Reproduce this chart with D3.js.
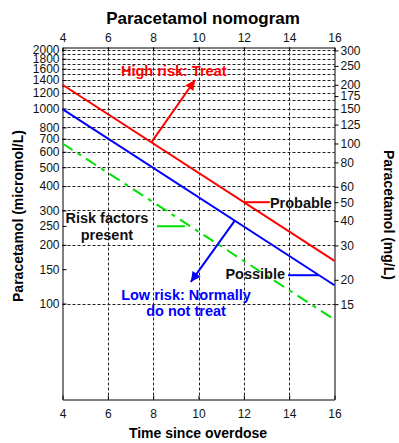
<!DOCTYPE html>
<html>
<head>
<meta charset="utf-8">
<script src="https://cdn.jsdelivr.net/npm/d3@7/dist/d3.min.js"></script>
<style>
  html, body { margin: 0; padding: 0; background: #fff; }
  svg { display: block; }
  text { font-family: "Liberation Sans", Arial, sans-serif; }
</style>
</head>
<body>
<svg id="chart" width="399" height="443"></svg>
<script>
// ---------- data ----------
const hours = [4, 16];                         // time since overdose (h)
const probableMgL = [200, 25];                 // treatment line "Probable" (mg/L)
const possibleMgL = [150, 18.75];              // "Possible" line (mg/L)
const riskFactorsMgL = [100, 12.5];            // "Risk factors present" line (mg/L)
const MGL_TO_UMOL = 6.616;                     // mg/L -> micromol/L
const timeTicks = [4, 6, 8, 10, 12, 14, 16];
const timeGrid = [6, 8, 10, 12, 14];
const leftTicks = [100, 150, 200, 250, 300, 400, 500, 600, 700, 800, 1000, 1200, 1400, 1600, 1800, 2000];
const rightTicks = [15, 20, 30, 40, 50, 60, 80, 100, 125, 150, 175, 200, 250, 300];
const gridLevels = [100, 200, 300, 400, 500, 600, 700, 800, 900, 1000, 1100, 1200, 1300, 1400, 1500, 1600, 1700, 1800, 1900, 2000];
const yDomainUmol = [32.2, 2055];

// annotation anchors, in data units (hours, micromol/L)
const highRiskArrow = [7.92, 9.85, 1400];      // from hour on probable line -> tip (hour, umol)
const lowRiskArrow = [11.6, 9.66, 129];        // from hour on possible line -> tip (hour, umol)

// ---------- layout ----------
const svg = d3.select("#chart");
const L = 62.5, R = 334.5, T = 47.5, B = 399.5;

const x = d3.scaleLinear().domain([4, 16]).range([L, R]);
const y = d3.scaleLog().domain(yDomainUmol).range([B, T]);
const yR = d3.scaleLog().domain(yDomainUmol.map(v => v / MGL_TO_UMOL)).range([B, T]);

const umol = arr => arr.map(v => v * MGL_TO_UMOL);
// value on a line (log-linear between the two ends) at hour h
function lineAt(vals, h) {
  const f = (h - hours[0]) / (hours[1] - hours[0]);
  return Math.exp(Math.log(vals[0]) + f * (Math.log(vals[1]) - Math.log(vals[0])));
}
function hourAt(vals, v) {
  const f = (Math.log(v) - Math.log(vals[0])) / (Math.log(vals[1]) - Math.log(vals[0]));
  return hours[0] + f * (hours[1] - hours[0]);
}

// ---------- grid ----------
const grid = svg.append("g").attr("stroke", "#222").attr("stroke-width", 1).attr("stroke-dasharray", "3,2");
grid.selectAll("line.h").data(gridLevels).join("line")
  .attr("x1", L).attr("x2", R)
  .attr("y1", d => Math.round(y(d)) + 0.5).attr("y2", d => Math.round(y(d)) + 0.5);
grid.selectAll("line.v").data(timeGrid).join("line")
  .attr("y1", T).attr("y2", B)
  .attr("x1", d => Math.round(x(d)) + 0.5).attr("x2", d => Math.round(x(d)) + 0.5);

// ---------- axes ----------
function styleAxis(g) {
  g.attr("font-family", "Liberation Sans, Arial, sans-serif").attr("font-size", 12);
  g.selectAll("path.domain").attr("stroke", "#000");
  g.selectAll(".tick line").attr("stroke", "#000");
  g.selectAll(".tick text").attr("fill", "#111");
}
svg.append("g").attr("transform", `translate(0,${T})`)
  .call(d3.axisTop(x).tickValues(timeTicks).tickSizeInner(-4).tickSizeOuter(0).tickPadding(6).tickFormat(d3.format("d")))
  .call(styleAxis);
svg.append("g").attr("transform", `translate(0,${B})`)
  .call(d3.axisBottom(x).tickValues(timeTicks).tickSizeInner(-4).tickSizeOuter(0).tickPadding(10).tickFormat(d3.format("d")))
  .call(styleAxis);
svg.append("g").attr("transform", `translate(${L},0)`)
  .call(d3.axisLeft(y).tickValues(leftTicks).tickSizeInner(-4).tickSizeOuter(0).tickPadding(3).tickFormat(d3.format("d")))
  .call(styleAxis);
svg.append("g").attr("transform", `translate(${R},0)`)
  .call(d3.axisRight(yR).tickValues(rightTicks).tickSizeInner(4).tickSizeOuter(0).tickPadding(2).tickFormat(d3.format("d")))
  .call(styleAxis);

// ---------- lines ----------
const lineGen = d3.line().x(d => x(d[0])).y(d => y(d[1]));
const series = [
  { vals: umol(probableMgL), color: "#ff0000", dash: null },
  { vals: umol(possibleMgL), color: "#0000ff", dash: null },
  { vals: umol(riskFactorsMgL), color: "#00e000", dash: "12,6,4,6" }
];
series.forEach(s => {
  svg.append("path")
    .attr("d", lineGen(hours.map((h, i) => [h, s.vals[i]])))
    .attr("fill", "none").attr("stroke", s.color).attr("stroke-width", 2)
    .attr("stroke-dasharray", s.dash);
});

// ---------- arrows ----------
const defs = svg.append("defs");
function marker(id, color) {
  defs.append("marker").attr("id", id).attr("viewBox", "0 0 10 10")
    .attr("refX", 10).attr("refY", 5).attr("markerUnits", "userSpaceOnUse")
    .attr("markerWidth", 12).attr("markerHeight", 10).attr("orient", "auto")
    .append("path").attr("d", "M0,0 L10,5 L0,10 Z").attr("fill", color);
}
marker("arrRed", "#ff0000");
marker("arrBlue", "#0000ff");

const pVals = umol(probableMgL), bVals = umol(possibleMgL), gVals = umol(riskFactorsMgL);
svg.append("line")
  .attr("x1", x(highRiskArrow[0])).attr("y1", y(lineAt(pVals, highRiskArrow[0])))
  .attr("x2", x(highRiskArrow[1])).attr("y2", y(highRiskArrow[2]))
  .attr("stroke", "#ff0000").attr("stroke-width", 2).attr("marker-end", "url(#arrRed)");
svg.append("line")
  .attr("x1", x(lowRiskArrow[0])).attr("y1", y(lineAt(bVals, lowRiskArrow[0])))
  .attr("x2", x(lowRiskArrow[1])).attr("y2", y(lowRiskArrow[2]))
  .attr("stroke", "#0000ff").attr("stroke-width", 2).attr("marker-end", "url(#arrBlue)");

// connectors
const probLevel = 50 * MGL_TO_UMOL;
svg.append("line")
  .attr("x1", x(hourAt(pVals, probLevel))).attr("x2", x(13.15))
  .attr("y1", y(probLevel)).attr("y2", y(probLevel))
  .attr("stroke", "#ff0000").attr("stroke-width", 2);
const possLevel = 139.7;
svg.append("line")
  .attr("x1", x(13.95)).attr("x2", x(hourAt(bVals, possLevel)))
  .attr("y1", y(possLevel)).attr("y2", y(possLevel))
  .attr("stroke", "#0000ff").attr("stroke-width", 2);
const riskLevel = 249;
svg.append("line")
  .attr("x1", x(8.17)).attr("x2", x(9.4))
  .attr("y1", y(riskLevel)).attr("y2", y(riskLevel))
  .attr("stroke", "#00e000").attr("stroke-width", 2);

// ---------- annotation text ----------
function label(txt, hx, v, color, anchor) {
  svg.append("text").attr("x", x(hx)).attr("y", y(v))
    .attr("fill", color).attr("font-weight", "bold").attr("font-size", 14.5)
    .attr("text-anchor", anchor).text(txt);
}
label("High risk: Treat", 6.58, 1464, "#ff0000", "start");
label("Probable", 13.15, 308, "#111", "start");
label("Possible", 13.82, 133.2, "#111", "end");
label("Risk factors", 5.96, 258, "#111", "middle");
label("present", 5.96, 212.9, "#111", "middle");
label("Low risk: Normally", 9.45, 104, "#0000ff", "middle");
label("do not treat", 9.45, 86, "#0000ff", "middle");

// ---------- titles ----------
svg.append("text").attr("x", 203).attr("y", 24).attr("text-anchor", "middle")
  .attr("font-weight", "bold").attr("font-size", 17).attr("fill", "#000").text("Paracetamol nomogram");
svg.append("text").attr("x", 198).attr("y", 438).attr("text-anchor", "middle")
  .attr("font-weight", "bold").attr("font-size", 14).attr("fill", "#000").text("Time since overdose");
svg.append("text").attr("transform", "translate(23,216) rotate(-90)").attr("text-anchor", "middle")
  .attr("font-weight", "bold").attr("font-size", 14).attr("fill", "#000").text("Paracetamol (micromol/L)");
svg.append("text").attr("transform", "translate(384,215) rotate(90)").attr("text-anchor", "middle")
  .attr("font-weight", "bold").attr("font-size", 14).attr("fill", "#000").text("Paracetamol (mg/L)");
</script>
</body>
</html>
